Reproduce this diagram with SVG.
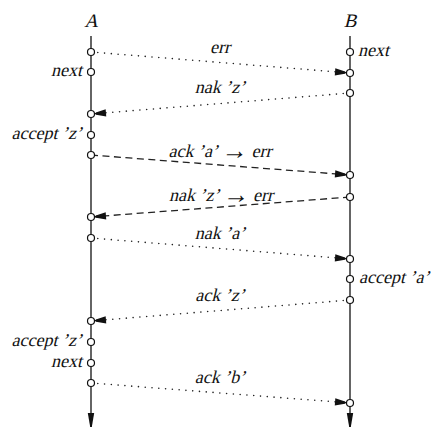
<svg xmlns="http://www.w3.org/2000/svg" width="439" height="436" viewBox="0 0 439 436">
<style>
text{font-family:"Liberation Serif","Times New Roman",serif;font-style:normal;font-size:18px;fill:#111}
.title{font-size:19px;text-anchor:middle}
.mid{text-anchor:middle}
.end{text-anchor:end}
.arr{font-size:26px}
.life{stroke:#111;stroke-width:1.3;fill:none}
.ev{fill:#fff;stroke:#111;stroke-width:1.2}
.dot{stroke:#222;stroke-width:1.6;stroke-linecap:round;stroke-dasharray:0 6.8;fill:none}
.dash{stroke:#222;stroke-width:1.3;stroke-dasharray:7 4.5;fill:none}
</style>
<defs>
<marker id="ah" markerUnits="userSpaceOnUse" viewBox="-20 -10 20 20" refX="0" refY="0" markerWidth="20" markerHeight="20" orient="auto">
<path d="M-15,-3.6 L-5,-1.2 L-5,1.2 L-15,3.6 Z" fill="#111"/>
<path d="M-6,0 L-2,0" stroke="#111" stroke-width="1.4"/>
</marker>
<marker id="av" markerUnits="userSpaceOnUse" viewBox="-20 -10 20 20" refX="0" refY="0" markerWidth="20" markerHeight="20" orient="auto">
<path d="M-14,-3.2 L0,-0.8 L0,0.8 L-14,3.2 Z" fill="#111"/>
</marker>
</defs>
<g id="connectors">
<line class="dot" x1="91" y1="52" x2="350" y2="73" marker-end="url(#ah)"/>
<line class="dot" x1="350" y1="93" x2="91" y2="114" marker-end="url(#ah)"/>
<line class="dash" x1="91" y1="155" x2="350" y2="175" marker-end="url(#ah)"/>
<line class="dash" x1="350" y1="197" x2="91" y2="217" marker-end="url(#ah)"/>
<line class="dot" x1="91" y1="238" x2="350" y2="259" marker-end="url(#ah)"/>
<line class="dot" x1="350" y1="300" x2="91" y2="321" marker-end="url(#ah)"/>
<line class="dot" x1="91" y1="383" x2="350" y2="403" marker-end="url(#ah)"/>
<text class="mid" transform="translate(220,53) skewX(-14)">err</text>
<text class="mid" transform="translate(220,93) skewX(-14)">nak ’z’</text>
<text class="mid" transform="translate(220,157) skewX(-14)">ack ’a’ <tspan class="arr" dy="2">→</tspan> <tspan dy="-2">err</tspan></text>
<text class="mid" transform="translate(221,201) skewX(-14)">nak ’z’ <tspan class="arr" dy="2">→</tspan> <tspan dy="-2">err</tspan></text>
<text class="mid" transform="translate(220,239) skewX(-14)">nak ’a’</text>
<text class="mid" transform="translate(220,301) skewX(-14)">ack ’z’</text>
<text class="mid" transform="translate(220,383) skewX(-14)">ack ’b’</text>
</g>
<g id="node-A">
<text class="title" transform="translate(91,27) skewX(-14)">A</text>
<line class="life" x1="91" y1="36" x2="91" y2="427" marker-end="url(#av)"/>
<circle class="ev" cx="91" cy="52" r="3.5"/>
<circle class="ev" cx="91" cy="72" r="3.5"/>
<circle class="ev" cx="91" cy="114" r="3.5"/>
<circle class="ev" cx="91" cy="135" r="3.5"/>
<circle class="ev" cx="91" cy="155" r="3.5"/>
<circle class="ev" cx="91" cy="217" r="3.5"/>
<circle class="ev" cx="91" cy="238" r="3.5"/>
<circle class="ev" cx="91" cy="321" r="3.5"/>
<circle class="ev" cx="91" cy="342" r="3.5"/>
<circle class="ev" cx="91" cy="363" r="3.5"/>
<circle class="ev" cx="91" cy="383" r="3.5"/>
<text class="end" transform="translate(82,76) skewX(-14)">next</text>
<text class="end" transform="translate(82,139) skewX(-14)">accept ’z’</text>
<text class="end" transform="translate(82,346) skewX(-14)">accept ’z’</text>
<text class="end" transform="translate(82,367) skewX(-14)">next</text>
</g>
<g id="node-B">
<text class="title" transform="translate(350,27) skewX(-14)">B</text>
<line class="life" x1="350" y1="36" x2="350" y2="427" marker-end="url(#av)"/>
<circle class="ev" cx="350" cy="52" r="3.5"/>
<circle class="ev" cx="350" cy="73" r="3.5"/>
<circle class="ev" cx="350" cy="93" r="3.5"/>
<circle class="ev" cx="350" cy="175" r="3.5"/>
<circle class="ev" cx="350" cy="197" r="3.5"/>
<circle class="ev" cx="350" cy="259" r="3.5"/>
<circle class="ev" cx="350" cy="279" r="3.5"/>
<circle class="ev" cx="350" cy="300" r="3.5"/>
<circle class="ev" cx="350" cy="403" r="3.5"/>
<text transform="translate(358,56) skewX(-14)">next</text>
<text transform="translate(359,283) skewX(-14)">accept ’a’</text>
</g>
</svg>
